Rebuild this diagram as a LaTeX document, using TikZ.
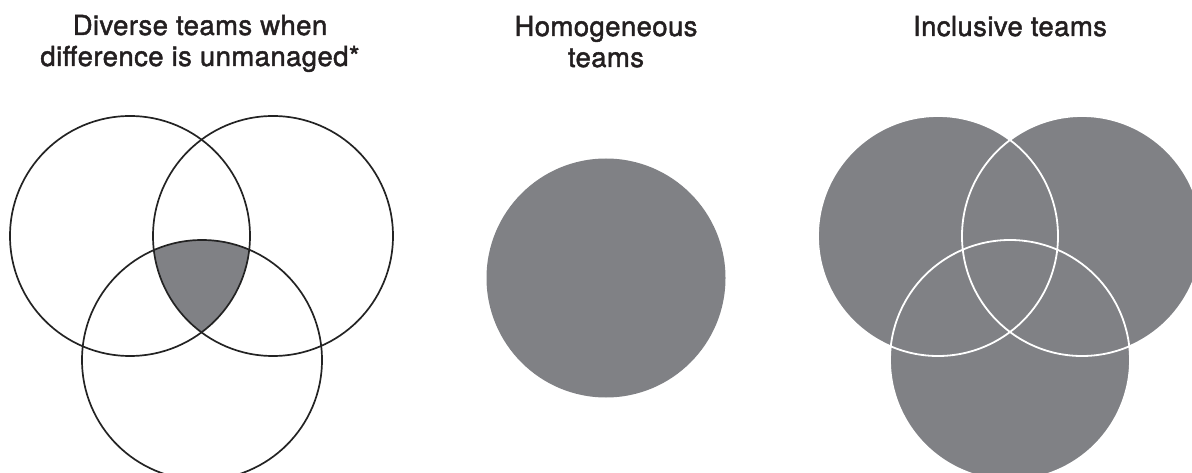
\documentclass[tikz,border=0pt]{standalone}
\usepackage{fontspec}
\setmainfont{TeX Gyre Heros}[FakeBold=1.6,LetterSpace=1.5]
\definecolor{venngray}{RGB}{128,129,133}
\definecolor{inkline}{RGB}{35,35,35}
\definecolor{titleink}{RGB}{35,31,32}
\begin{document}
\begin{tikzpicture}[x=1pt,y=-1pt,
  title/.style={align=center,text=titleink,font=\fontsize{27.5}{31}\selectfont,anchor=base,inner sep=0pt},
  outline/.style={draw=inkline,line width=1.7pt},
  whiteline/.style={draw=white,line width=1.8pt}]
\useasboundingbox (0,0) rectangle (1192,473);
\clip (0,0) rectangle (1192,473);
% titles (anchor = baseline of last line)
\node[title] (t1) at (200,66) {Diverse teams when\\difference is unmanaged*};
\node[title] (t2) at (606,67) {Homogeneous\\teams};
\node[title] (t3) at (1010,36) {Inclusive teams};
% left Venn
\coordinate (a1) at (130,236);
\coordinate (a2) at (273,236);
\coordinate (a3) at (202,360);
\begin{scope}
  \clip (a1) circle (120);
  \clip (a2) circle (120);
  \fill[venngray] (a3) circle (120);
\end{scope}
\draw[outline] (a1) circle (120);
\draw[outline] (a2) circle (120);
\draw[outline] (a3) circle (120);
% middle circle
\coordinate (m) at (606,278);
\fill[venngray] (m) circle (119.5);
% right Venn
\coordinate (b1) at (938,236);
\coordinate (b2) at (1082,236);
\coordinate (b3) at (1010,360);
\fill[venngray] (b1) circle (120) (b2) circle (120) (b3) circle (120);
\draw[whiteline] (b1) circle (120);
\draw[whiteline] (b2) circle (120);
\draw[whiteline] (b3) circle (120);
\end{tikzpicture}
\end{document}
